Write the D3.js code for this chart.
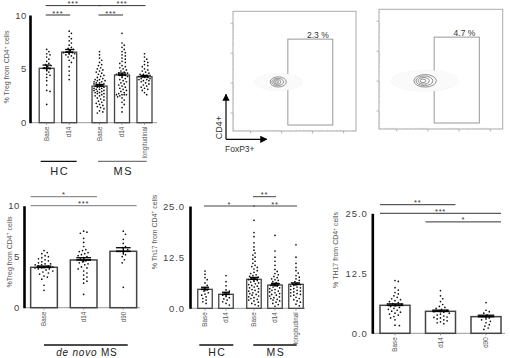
<!DOCTYPE html>
<html><head><meta charset="utf-8">
<script src="https://cdn.jsdelivr.net/npm/d3@7"></script>
<style>
body{margin:0;background:#fff}
svg{display:block}
text{font-family:"Liberation Sans",Arial,sans-serif}
</style>
</head><body>
<svg id="c" width="510" height="358"></svg>
<script>
// ---------------- DATA ----------------
// Panel A: % Treg, HC vs MS
const tregCats = ["Base", "d14", "Base", "d14", "longitudinal"];
const tregSlots = [0, 1, 2.35, 3.35, 4.35];
const tregMeans = [5.05, 6.55, 3.4, 4.43, 4.27];
const tregSem = [0.3, 0.25, 0.15, 0.18, 0.12];
const tregDots = [
  [6.8,6.6,6.4,6.3,6.1,5.9,5.7,5.5,5.4,5.3,5.2,5.1,5.0,4.9,4.7,4.5,4.4,4.2,3.9,3.5,3.0,2.9,1.7],
  [8.5,8.3,8.0,7.8,7.6,7.4,7.2,7.0,6.9,6.8,6.7,6.6,6.5,6.5,6.4,6.4,6.3,6.2,6.1,6.0,5.8,5.6,5.2,4.8,4.4,4.0],
  [6.6,6.3,6.0,5.8,5.6,5.4,5.3,5.1,5.0,4.9,4.8,4.7,4.6,4.5,4.4,4.3,4.2,4.1,4.0,4.0,3.9,3.9,3.8,3.8,3.7,3.7,3.6,3.6,3.5,3.5,3.4,3.4,3.3,3.3,3.2,3.2,3.1,3.1,3.0,3.0,2.9,2.9,2.8,2.8,2.7,2.7,2.6,2.5,2.5,2.4,2.3,2.2,2.1,2.0,1.9,1.8,1.7,1.6,1.5,1.4,1.3,1.1,1.0,0.9],
  [8.3,7.4,7.2,7.0,6.8,6.6,6.5,6.3,6.2,6.0,5.9,5.7,5.6,5.5,5.3,5.2,5.1,5.0,4.9,4.8,4.7,4.6,4.6,4.5,4.5,4.4,4.4,4.3,4.2,4.1,4.0,3.9,3.8,3.7,3.6,3.5,3.4,3.3,3.2,3.1,3.0,2.9,2.8,2.7,2.6,2.6,2.6,2.6,2.5,2.4,2.3,2.1,1.9,1.7,1.4,1.0],
  [6.4,6.1,5.9,5.7,5.6,5.4,5.3,5.2,5.0,4.9,4.8,4.7,4.6,4.5,4.5,4.4,4.4,4.3,4.3,4.2,4.2,4.1,4.1,4.0,4.0,3.9,3.9,3.8,3.7,3.6,3.5,3.4,3.3,3.2,3.1,3.0,2.8,2.6]
];
const tregGroups = [{name: "HC", members: [0, 1]}, {name: "MS", members: [2, 3, 4]}];
const tregSig = [[0, 2, 0, "***"], [2, 4, 0, "***"], [0, 1, 1, "***"], [2, 3, 1, "***"]];
const tregTicks = [0, 5, 10];

// Panel B: % Treg, de novo MS
const denovoCats = ["Base", "d14", "d90"];
const denovoSlots = [0, 1, 2];
const denovoMeans = [3.96, 4.68, 5.53];
const denovoSem = [0.12, 0.22, 0.35];
const denovoDots = [
  [5.6,5.4,5.3,5.1,5.0,4.9,4.8,4.7,4.6,4.5,4.4,4.3,4.3,4.2,4.2,4.1,4.1,4.0,4.0,3.9,3.9,3.8,3.8,3.7,3.6,3.5,3.4,3.3,3.1,3.0,2.8,2.2,1.7],
  [7.5,7.4,7.3,6.8,6.4,6.0,5.7,5.6,5.5,5.4,5.3,5.2,5.1,5.0,4.9,4.8,4.7,4.6,4.5,4.4,4.3,4.2,4.0,3.9,3.8,3.6,3.4,3.2,3.0,2.8,2.6,2.4,1.3],
  [7.5,7.2,6.7,6.3,6.0,5.9,5.7,5.5,5.2,5.0,4.7,4.4,2.0]
];
const denovoSig = [[0, 1, 0, "*"], [0, 2, 1, "***"]];

// Panel C: % Th17, HC vs MS
const th17Cats = ["Base", "d14", "Base", "d14", "longitudinal"];
const th17Slots = [0, 1, 2.33, 3.33, 4.33];
const th17Means = [4.64, 3.42, 7.09, 5.69, 5.86];
const th17Sem = [0.5, 0.5, 0.45, 0.4, 0.35];
const th17Dots = [
  [9.1,8.3,7.5,7.0,6.2,5.6,5.0,4.5,4.2,3.8,3.5,3.2,2.8,2.4,2.0,1.6,1.2],
  [8.0,6.5,5.5,4.5,4.2,3.8,3.5,3.2,2.9,2.6,2.3,2.0,1.6,1.2,0.8],
  [21.5,18.5,17.5,16.0,15.0,14.2,13.5,13.0,12.5,12.0,11.5,11.0,10.5,10.2,10.0,9.6,9.2,8.8,8.5,8.2,8.0,7.8,7.6,7.4,7.2,7.0,6.8,6.6,6.4,6.2,6.0,5.8,5.6,5.4,5.2,5.0,4.8,4.6,4.4,4.2,4.0,3.8,3.6,3.4,3.2,3.0,2.8,2.6,2.4,2.2,2.0,1.8,1.5,1.2,0.9,0.6],
  [17.8,14.0,12.5,11.5,10.5,9.5,9.0,8.5,8.2,7.8,7.5,7.2,7.0,6.8,6.5,6.3,6.0,5.8,5.6,5.4,5.2,5.0,4.8,4.6,4.4,4.2,4.0,3.8,3.6,3.4,3.2,3.0,2.8,2.6,2.4,2.2,2.0,1.8,1.5,1.2,0.9,0.5],
  [15.5,12.5,11.0,10.0,9.2,8.6,8.0,7.6,7.2,6.8,6.5,6.2,6.0,5.8,5.6,5.4,5.2,5.0,4.8,4.6,4.4,4.2,4.0,3.8,3.6,3.4,3.2,3.0,2.7,2.4,2.1,1.8,1.5,1.0,0.6]
];
const th17Groups = [{name: "HC", members: [0, 1]}, {name: "MS", members: [2, 3, 4]}];
const th17Sig = [[0, 2, 1, "*"], [2, 3, 0, "**"], [2, 4, 1, "**"]];
const th17Ticks = [0, 12.5, 25];

// Panel D: % TH17, de novo
const th17dnCats = ["Base", "d14", "d90"];
const th17dnSlots = [0, 1, 2];
const th17dnMeans = [5.83, 4.58, 3.47];
const th17dnSem = [0.3, 0.25, 0.3];
const th17dnDots = [
  [11.0,10.8,9.5,9.0,8.5,8.2,7.8,7.5,7.2,7.0,6.8,6.6,6.4,6.2,6.0,5.8,5.6,5.4,5.2,5.0,4.8,4.6,4.4,4.2,4.0,3.8,3.5,3.2,2.8,1.7,1.6],
  [8.9,7.8,7.2,6.6,6.0,5.6,5.4,5.2,5.0,4.8,4.6,4.5,4.4,4.2,4.0,3.8,3.6,3.4,3.3,3.2,3.0,2.8,2.6,2.4,2.2,2.0],
  [6.4,4.8,4.5,4.2,3.8,3.5,3.2,3.0,2.8,2.5,2.2,1.8,1.5,1.1,0.8]
];
const th17dnSig = [[0, 1, 0, "**"], [0, 2, 1, "***"], [1, 2, 2, "*"]];

// Flow cytometry panels
const flowPct = [2.3, 4.7];
const flowCenter = [[1.89, 2.04], [1.91, 2.01]];
const flowContours = [
  [[0.26, 0.17], [0.19, 0.12], [0.12, 0.08], [0.06, 0.04]],
  [[0.36, 0.21], [0.27, 0.16], [0.18, 0.11], [0.09, 0.06]]
];
const flowGate = [2.2, 3.65, 0.6, 3.47];
const flowTicks = [1, 2, 3, 4];

// ---------------- DRAW ----------------
const svg = d3.select("#c");

// deterministic beeswarm layout
function swarm(values, cx, y, dist, maxHalf) {
  const pts = [];
  const step = 1.1;
  values.slice().sort((a, b) => b - a).forEach(v => {
    const yy = y(v);
    let placed = null;
    for (let k = 0; k < 60; k++) {
      const off = (k === 0) ? 0 : (k % 2 ? 1 : -1) * Math.ceil(k / 2) * step;
      if (Math.abs(off) > maxHalf) break;
      const xx = cx + off;
      const hit = pts.some(p => (p.x - xx) ** 2 + (p.y - yy) ** 2 < dist * dist);
      if (!hit) { placed = {x: xx, y: yy}; break; }
    }
    if (!placed) {
      let best = cx, bestD = -1;
      for (let off = -maxHalf; off <= maxHalf; off += step) {
        const xx = cx + off;
        const dmin = d3.min(pts, p => (p.x - xx) ** 2 + (p.y - yy) ** 2);
        if (dmin > bestD) { bestD = dmin; best = xx; }
      }
      placed = {x: best, y: yy};
    }
    pts.push(placed);
  });
  return pts;
}

function barPanel(o) {
  const g = svg.append("g");
  const y = d3.scaleLinear().domain([0, o.yMax]).range([o.yBot, o.yTop]);
  const x = d3.scaleLinear().domain([o.slots[0], o.slots[o.slots.length - 1]]).range([o.c0, o.c1]);
  const bw = o.barW;

  g.append("line").attr("x1", o.axisX).attr("x2", o.xEnd)
    .attr("y1", y(0)).attr("y2", y(0)).attr("stroke", "#999").attr("stroke-width", 1);

  g.selectAll("rect.bar").data(o.means).join("rect")
    .attr("x", (d, i) => x(o.slots[i]) - bw / 2).attr("width", bw)
    .attr("y", d => y(d)).attr("height", d => y(0) - y(d))
    .attr("fill", "#fff").attr("stroke", "#444").attr("stroke-width", o.barStroke || 1.3);

  g.selectAll("line.xt").data(o.means).join("line")
    .attr("x1", (d, i) => x(o.slots[i])).attr("x2", (d, i) => x(o.slots[i]))
    .attr("y1", y(0)).attr("y2", y(0) + 2).attr("stroke", "#777").attr("stroke-width", 0.8);

  o.dots.forEach((vals, i) => {
    const pts = swarm(vals, x(o.slots[i]), y, o.dotDist || 3.2, Math.min(bw / 2 - 2, o.maxHalf || 99));
    g.append("g").selectAll("circle").data(pts).join("circle")
      .attr("cx", p => p.x).attr("cy", p => p.y).attr("r", 0.85).attr("fill", "#111");
  });

  o.means.forEach((m, i) => {
    const cx = x(o.slots[i]); const cw = bw * 0.55;
    const s = o.sem[i];
    g.append("line").attr("x1", cx).attr("x2", cx).attr("y1", y(m + s)).attr("y2", y(m - s))
      .attr("stroke", "#000").attr("stroke-width", 1.3);
    g.append("line").attr("x1", cx - cw / 2).attr("x2", cx + cw / 2).attr("y1", y(m + s)).attr("y2", y(m + s))
      .attr("stroke", "#000").attr("stroke-width", 1.3);
    g.append("line").attr("x1", cx - cw / 2).attr("x2", cx + cw / 2).attr("y1", y(m)).attr("y2", y(m))
      .attr("stroke", "#000").attr("stroke-width", 1.6);
  });

  const ax = g.append("g").attr("transform", `translate(${o.axisX},0)`)
    .call(d3.axisLeft(y).tickValues(o.ticks).tickSize(0).tickPadding(o.tickPad).tickFormat(o.fmt));
  ax.select(".domain").attr("stroke", "#000").attr("stroke-width", 2.6);
  ax.selectAll("text").attr("font-size", o.tickFont).attr("fill", "#444")
    .attr("letter-spacing", o.tickLS).attr("font-family", '"Liberation Sans",Arial,sans-serif');

  g.selectAll("text.cat").data(o.cats).join("text")
    .attr("transform", (d, i) => `translate(${x(o.slots[i]) + 2.2},${y(0) + 4}) rotate(-90)`)
    .attr("text-anchor", "end").attr("font-size", 6.3).attr("fill", "#555").text(d => d);

  const yl = g.append("text")
    .attr("transform", `translate(${o.ylX},${o.ylY}) rotate(-90)`)
    .attr("text-anchor", "middle").attr("font-size", 7).attr("fill", "#555");
  yl.append("tspan").text(o.ylabel[0]);
  yl.append("tspan").attr("font-size", 4.8).attr("dy", -2.5).text("+");
  yl.append("tspan").attr("dy", 2.5).text(o.ylabel[1]);

  o.sig.forEach(([a, b, row, lab]) => {
    let x1, x2;
    if (o.sigMode === "edge") { x1 = x(o.slots[a]) - bw / 2; x2 = x(o.slots[b]) + bw / 2; }
    else { x1 = x(o.slots[a]) - 1; x2 = x(o.slots[b]) + 1; }
    const ly = o.yTop + (row - 1) * o.sigGap;
    g.append("line").attr("x1", x1).attr("x2", x2).attr("y1", ly).attr("y2", ly)
      .attr("stroke", o.sigColor || "#333").attr("stroke-width", 1);
    g.append("text").attr("x", (x1 + x2) / 2).attr("y", ly + 0.5).attr("text-anchor", "middle")
      .attr("font-size", 7.5).attr("letter-spacing", 0.8).attr("fill", "#333").text(lab);
  });

  (o.groups || []).forEach((gr, gi) => {
    const first = x(o.slots[gr.members[0]]) - o.groupPad[gi][0];
    const last = x(o.slots[gr.members[gr.members.length - 1]]) + o.groupPad[gi][1];
    g.append("line").attr("x1", first).attr("x2", last).attr("y1", o.groupLineY).attr("y2", o.groupLineY)
      .attr("stroke", o.groupColor[gi]).attr("stroke-width", 1.3);
    const t = g.append("text").attr("x", (first + last) / 2 + 1).attr("y", o.groupLabelY)
      .attr("text-anchor", "middle").attr("font-size", o.groupFont || 11)
      .attr("letter-spacing", o.groupLS == null ? 1.5 : o.groupLS).attr("fill", "#222");
    if (gr.italic) { t.append("tspan").attr("font-style", "italic").text(gr.italic); t.append("tspan").text(" " + gr.name); }
    else t.text(gr.name);
  });
}

barPanel({
  cats: tregCats, slots: tregSlots, means: tregMeans, sem: tregSem, dots: tregDots, sig: tregSig,
  groups: tregGroups, ticks: tregTicks, fmt: d3.format("d"), yMax: 10,
  yBot: 122.7, yTop: 15, c0: 46.7, c1: 144.5, barW: 15, axisX: 30, xEnd: 157,
  tickPad: 3, tickFont: 9.5, tickLS: 0.6, ylX: 9, ylY: 67, ylabel: ["% Treg from CD4", " cells"],
  sigMode: "center", sigGap: 9.4, groupLineY: 161.3, groupLabelY: 175, dotDist: 3.0,
  groupPad: [[6, 7.5], [1.5, 2.2]], groupColor: ["#111", "#777"]
});

barPanel({
  cats: denovoCats, slots: denovoSlots, means: denovoMeans, sem: denovoSem, dots: denovoDots, sig: denovoSig,
  groups: [{name: "MS", italic: "de novo", members: [0, 1, 2]}], ticks: tregTicks, fmt: d3.format("d"), yMax: 10,
  yBot: 307.7, yTop: 205.7, c0: 44, c1: 123.3, barW: 26.7, axisX: 24, xEnd: 140, barStroke: 1.5,
  tickPad: 4, tickFont: 9.5, tickLS: 0.6, ylX: 11.5, ylY: 252, ylabel: ["%Treg from CD4", " cells"],
  sigMode: "edge", sigGap: 9, sigColor: "#777", groupLineY: 345, groupLabelY: 355.5, dotDist: 3.4, maxHalf: 9,
  groupPad: [[0, 4.4]], groupColor: ["#111"], groupFont: 10, groupLS: 0.8
});

barPanel({
  cats: th17Cats, slots: th17Slots, means: th17Means, sem: th17Sem, dots: th17Dots, sig: th17Sig,
  groups: th17Groups, ticks: th17Ticks, fmt: d3.format(".1f"), yMax: 25,
  yBot: 308.3, yTop: 206, c0: 205, c1: 296, barW: 14.5, axisX: 190, xEnd: 305,
  tickPad: 5, tickFont: 9.5, tickLS: 0.9, ylX: 156.5, ylY: 232, ylabel: ["% Th17 from CD4", " cells"],
  sigMode: "center", sigGap: 9.3, sigColor: "#444", groupLineY: 345, groupLabelY: 355.5, dotDist: 3.0,
  groupPad: [[5.7, 7.3], [0.7, 0.7]], groupColor: ["#111", "#111"], groupFont: 10.5
});

barPanel({
  cats: th17dnCats, slots: th17dnSlots, means: th17dnMeans, sem: th17dnSem, dots: th17dnDots, sig: th17dnSig,
  groups: [], ticks: th17Ticks, fmt: d3.format(".1f"), yMax: 25,
  yBot: 333.3, yTop: 213.3, c0: 395, c1: 486, barW: 30, axisX: 372.3, xEnd: 505, barStroke: 1.5,
  tickPad: 4.6, tickFont: 9.5, tickLS: 0.9, ylX: 338, ylY: 250, ylabel: ["% TH17 from CD4", " cells"],
  sigMode: "edge", sigGap: 8.6, sigColor: "#333", dotDist: 3.4, maxHalf: 10
});

// ---- flow plots ----
const flowBoxes = [{x0: 233, x1: 356, y0: 11.3, y1: 131}, {x0: 379, x1: 502.7, y0: 9.3, y1: 129}];
flowPct.forEach((pct, i) => {
  const b = flowBoxes[i];
  const g = svg.append("g");
  const fx = d3.scaleLinear().domain([0.43, 4.4]).range([b.x0, b.x1]);
  const fy = d3.scaleLinear().domain([0.4, 4.4]).range([b.y1, b.y0]);
  g.append("rect").attr("x", b.x0).attr("y", b.y0).attr("width", b.x1 - b.x0).attr("height", b.y1 - b.y0)
    .attr("fill", "none").attr("stroke", "#aaa").attr("stroke-width", 1);
  const minors = [];
  for (let d = 0; d < 5; d++) for (let m = 2; m <= 9; m++) minors.push(d + Math.log10(m));
  g.selectAll("line.mx").data(minors.filter(v => v > 0.45 && v < 4.4)).join("line")
    .attr("x1", v => fx(v)).attr("x2", v => fx(v)).attr("y1", b.y1).attr("y2", b.y1 - 1.2)
    .attr("stroke", "#bbb").attr("stroke-width", 0.6);
  g.selectAll("line.my").data(minors.filter(v => v > 0.42 && v < 4.4)).join("line")
    .attr("y1", v => fy(v)).attr("y2", v => fy(v)).attr("x1", b.x0).attr("x2", b.x0 + 1.2)
    .attr("stroke", "#bbb").attr("stroke-width", 0.6);
  g.selectAll("line.tx").data(flowTicks).join("line")
    .attr("x1", v => fx(v)).attr("x2", v => fx(v)).attr("y1", b.y1).attr("y2", b.y1 + 2.5)
    .attr("stroke", "#999").attr("stroke-width", 0.7);
  g.selectAll("line.ty").data(flowTicks).join("line")
    .attr("y1", v => fy(v)).attr("y2", v => fy(v)).attr("x1", b.x0).attr("x2", b.x0 - 2.5)
    .attr("stroke", "#999").attr("stroke-width", 0.7);
  g.append("rect").attr("x", fx(flowGate[0])).attr("y", fy(flowGate[3]))
    .attr("width", fx(flowGate[1]) - fx(flowGate[0])).attr("height", fy(flowGate[2]) - fy(flowGate[3]))
    .attr("fill", "none").attr("stroke", "#999").attr("stroke-width", 1);
  g.append("text").attr("x", fx(flowGate[1]) - 4).attr("y", fy(flowGate[3]) - 1.5)
    .attr("text-anchor", "end").attr("font-size", 8.5).attr("fill", "#333").text(d3.format(".1f")(pct) + " %");
  const [cxv, cyv] = flowCenter[i];
  const outer = flowContours[i][0][0];
  g.append("ellipse").attr("cx", fx(cxv)).attr("cy", fy(cyv))
    .attr("rx", fx(outer * 3.0) - fx(0)).attr("ry", fy(0) - fy(flowContours[i][0][1] * 1.7))
    .attr("fill", "#fafafa").attr("stroke", "#e2e2e2").attr("stroke-width", 0.7).attr("stroke-dasharray", "0.6 1.8");
  flowContours[i].forEach(([rx, ry]) => {
    const shift = -(outer - rx) * 0.25;
    g.append("ellipse").attr("cx", fx(cxv + shift)).attr("cy", fy(cyv))
      .attr("rx", fx(rx) - fx(0)).attr("ry", fy(0) - fy(ry))
      .attr("fill", "none").attr("stroke", "#777").attr("stroke-width", 0.8);
  });
});

const defs = svg.append("defs");
defs.append("marker").attr("id", "ah").attr("viewBox", "0 0 10 10").attr("refX", 9).attr("refY", 5)
  .attr("markerWidth", 6).attr("markerHeight", 6).attr("orient", "auto")
  .append("path").attr("d", "M0,0 L10,5 L0,10 Z").attr("fill", "#000");
const ao = [226, 139.3];
svg.append("line").attr("x1", ao[0]).attr("y1", ao[1]).attr("x2", ao[0]).attr("y2", 94.3)
  .attr("stroke", "#000").attr("stroke-width", 1.2).attr("marker-end", "url(#ah)");
svg.append("line").attr("x1", ao[0]).attr("y1", ao[1]).attr("x2", 266.7).attr("y2", ao[1])
  .attr("stroke", "#000").attr("stroke-width", 1.2).attr("marker-end", "url(#ah)");
svg.append("text").attr("transform", `translate(221.5,127.5) rotate(-90)`).attr("text-anchor", "middle")
  .attr("font-size", 9).attr("fill", "#333").text("CD4+");
svg.append("text").attr("x", 225).attr("y", 152).attr("font-size", 8.5).attr("fill", "#333").text("FoxP3+");
</script>
</body></html>
